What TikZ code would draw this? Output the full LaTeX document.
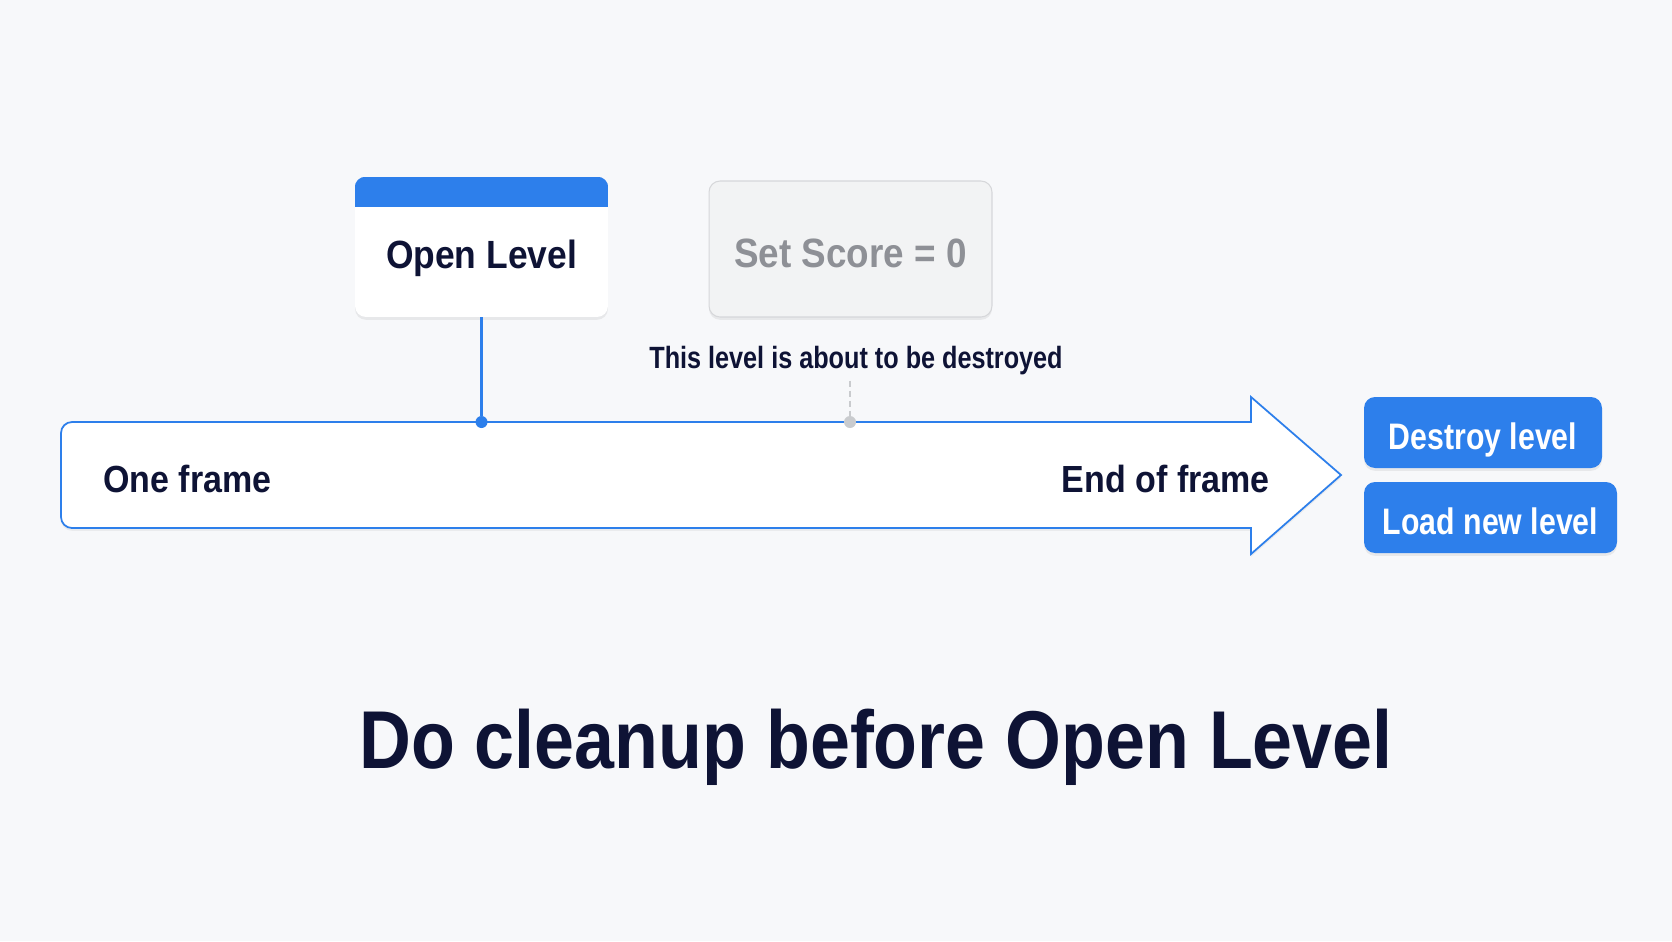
\documentclass[tikz,border=0pt]{standalone}
\usepackage{fontspec}
\setmainfont{Liberation Sans}
\newfontfamily\labelfont[FakeStretch=0.9]{Liberation Sans}
\newfontfamily\titlefont[FakeStretch=0.875]{Liberation Sans}
\newfontfamily\narrowfont[FakeStretch=0.82]{Liberation Sans}
\usepackage{tikz}
\usetikzlibrary{shadows}
\usetikzlibrary{calc}

\definecolor{bgcol}{HTML}{F7F8FA}
\definecolor{navy}{HTML}{0E1335}
\definecolor{accent}{HTML}{2D7FEB}
\definecolor{greybox}{HTML}{F2F3F4}
\definecolor{greyline}{HTML}{D6D7DA}
\definecolor{greytext}{HTML}{8E9096}
\definecolor{greydot}{HTML}{C9CBCE}

\begin{document}
\begin{tikzpicture}[x=0.02cm,y=-0.02cm]
    \newcommand{\rad}[0]{ 2.2mm }
    \tikzstyle{card}     = [rectangle,rounded corners=\rad,inner sep=0pt,
                            drop shadow={shadow xshift=0pt,shadow yshift=-1.6pt,opacity=0.13}]
    \tikzstyle{button}   = [card,fill=accent,text=white,minimum height=1.42cm,
                            text height=0.68cm,text depth=0pt,
                            font=\narrowfont\bfseries\fontsize{21}{24}\selectfont]
    \tikzstyle{txt}      = [text=navy,inner sep=0pt,
                            font=\labelfont\bfseries\fontsize{21.5}{24}\selectfont]
    \tikzstyle{link}     = [line width=1.2pt,draw=accent]
    \tikzstyle{dashlink} = [line width=1.1pt,draw=greydot,dash pattern=on 1.2mm off 0.8mm]
    \tikzstyle{dot}      = [circle,inner sep=0pt,minimum size=2.4mm]

    % background
    \fill[bgcol] (0,0) rectangle (1672,941);
    \useasboundingbox (0,0) rectangle (1672,941);

    % the frame arrow
    \draw[draw=accent,line width=1pt,fill=white,
          drop shadow={shadow xshift=0pt,shadow yshift=-1.6pt,opacity=0.10}]
         (61,475) [rounded corners=\rad] -- (61,422) -- (300,422)
         [sharp corners] -- (1251,422) -- (1251,397) -- (1341,475)
         -- (1251,554) -- (1251,528) -- (1200,528)
         [rounded corners=\rad] -- (61,528) -- cycle;
    \node[txt,anchor=base west] (one_frame) at (103,492) {One frame};
    \node[txt,anchor=base east] (end_frame) at (1270,492) {End of frame};

    % cards above the arrow
    \node[card,fill=white,minimum width=5.06cm,minimum height=2.8cm,
          text=navy,text height=0.84cm,text depth=0pt,
          font=\labelfont\bfseries\fontsize{22.4}{26}\selectfont]
      (open_level) at (481.5,247) {Open Level};
    \begin{scope}
      \clip[rounded corners=\rad] (open_level.south west) rectangle (open_level.north east);
      \fill[accent] (open_level.north west) rectangle ($(open_level.north east)+(0,30)$);
    \end{scope}
    \node[card,fill=greybox,draw=greyline,line width=0.6pt,
          minimum width=5.66cm,minimum height=2.72cm,
          text=greytext,text height=0.72cm,text depth=0pt,
          font=\labelfont\bfseries\fontsize{23.3}{26}\selectfont]
      (set_score) at (850.5,249) {Set Score = 0};
    \node[anchor=base,text=navy,
          font=\narrowfont\bfseries\fontsize{17.5}{20}\selectfont]
      (about_label) at (856,368) {This level is about to be destroyed};

    % marks on the arrow
    \node[dot,fill=accent] (level_dot) at (481.5,422) {};
    \node[dot,fill=greydot] (score_dot) at (850,422) {};
    \draw[link] (open_level.south) -- (level_dot);
    \draw[dashlink] (about_label.south -| score_dot) -- (score_dot);

    % after the frame
    \node[button,minimum width=4.76cm] (destroy_level) at (1483,432.5) {Destroy level};
    \node[button,minimum width=5.06cm] (load_level) at (1490.5,517.5) {Load new level};

    % title
    \node[anchor=base,text=navy,inner sep=0pt,
          font=\titlefont\bfseries\fontsize{46.7}{52}\selectfont]
      (title) at (876,768) {Do cleanup before Open Level};
\end{tikzpicture}
\end{document}
